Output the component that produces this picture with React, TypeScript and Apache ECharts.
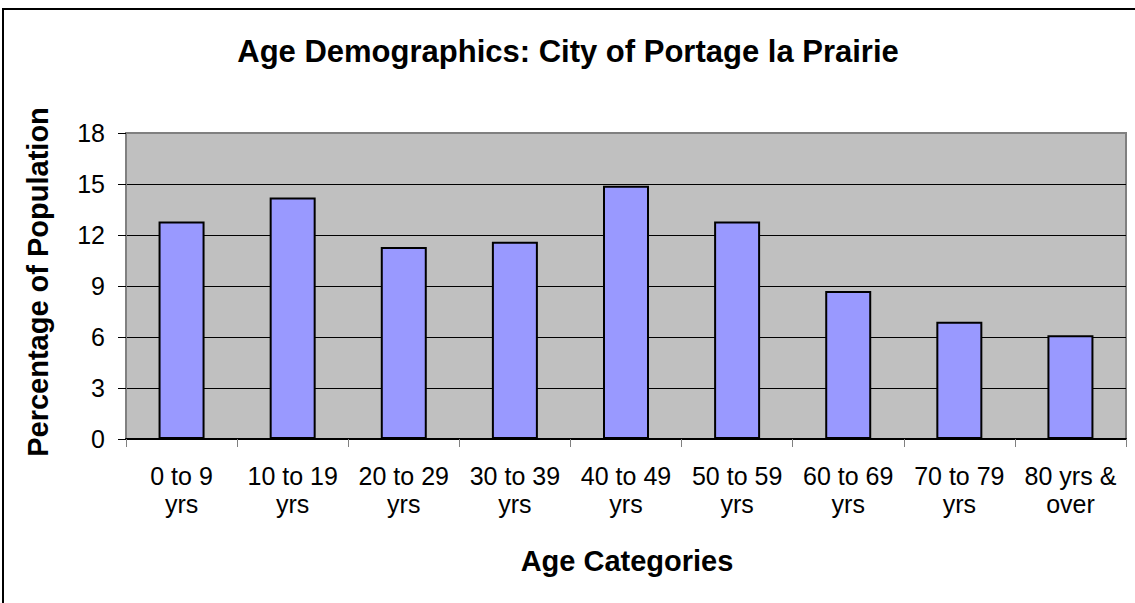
import React, { useEffect, useRef } from "react";
import * as echarts from "echarts";

const categories = [
  "0 to 9\nyrs",
  "10 to 19\nyrs",
  "20 to 29\nyrs",
  "30 to 39\nyrs",
  "40 to 49\nyrs",
  "50 to 59\nyrs",
  "60 to 69\nyrs",
  "70 to 79\nyrs",
  "80 yrs &\nover",
];
const percentages = [12.8, 14.2, 11.3, 11.6, 14.9, 12.8, 8.7, 6.9, 6.1];
const titleText = "Age Demographics: City of Portage la Prairie";
const xName = "Age Categories";
const yName = "Percentage of Population";

const FONT = "Arial, 'Liberation Sans', sans-serif";

export default function App() {
  const ref = useRef<HTMLDivElement>(null);
  useEffect(() => {
    if (!ref.current) return;
    const chart = echarts.init(ref.current, undefined, { renderer: "svg" });
    chart.setOption({
      animation: false,
      backgroundColor: "#ffffff",
      grid: {
        left: 126,
        top: 133,
        right: 9,
        bottom: 164,
        show: true,
        backgroundColor: "#C0C0C0",
        borderColor: "#808080",
        borderWidth: 2,
      },
      xAxis: {
        type: "category",
        data: categories,
        axisLine: { show: true, lineStyle: { color: "#000000", width: 2 } },
        axisTick: { show: true, length: 8, lineStyle: { color: "#808080", width: 1 } },
        axisLabel: {
          interval: 0,
          margin: 23,
          color: "#000000",
          fontSize: 25,
          lineHeight: 28,
          fontFamily: FONT,
        },
        splitLine: { show: false },
      },
      yAxis: {
        type: "value",
        min: 0,
        max: 18,
        interval: 3,
        axisLine: { show: true, lineStyle: { color: "#808080", width: 2 } },
        axisTick: { show: true, length: 8, lineStyle: { color: "#000000", width: 1 } },
        axisLabel: {
          margin: 21,
          color: "#000000",
          fontSize: 25,
          fontFamily: FONT,
        },
        splitLine: {
          show: true,
          lineStyle: {
            color: ["#000000", "#000000", "#000000", "#000000", "#000000", "#000000", "#808080"],
            width: 1,
          },
        },
      },
      series: [
        {
          type: "bar",
          data: percentages,
          barWidth: 46,
          itemStyle: { color: "#9999FF", borderColor: "#000000", borderWidth: 2 },
        },
      ],
      graphic: [
        {
          type: "rect",
          shape: { x: 3, y: 9, width: 1200, height: 700 },
          style: { fill: "none", stroke: "#000000", lineWidth: 2 },
          silent: true,
          z: 100,
        },
        {
          type: "text",
          x: 568,
          y: 51,
          style: {
            text: titleText,
            fontSize: 31,
            fontWeight: "bold",
            fontFamily: FONT,
            fill: "#000000",
            textAlign: "center",
            textVerticalAlign: "middle",
          },
        },
        {
          type: "text",
          x: 627,
          y: 561,
          style: {
            text: xName,
            fontSize: 29,
            fontWeight: "bold",
            fontFamily: FONT,
            fill: "#000000",
            textAlign: "center",
            textVerticalAlign: "middle",
          },
        },
        {
          type: "text",
          x: 38,
          y: 282,
          rotation: Math.PI / 2,
          style: {
            text: yName,
            fontSize: 29,
            fontWeight: "bold",
            fontFamily: FONT,
            fill: "#000000",
            textAlign: "center",
            textVerticalAlign: "middle",
          },
        },
      ],
    });
    return () => chart.dispose();
  }, []);
  return (
    <div
      ref={ref}
      style={{ position: "fixed", left: 0, top: 0, width: 1135, height: 603 }}
    />
  );
}
